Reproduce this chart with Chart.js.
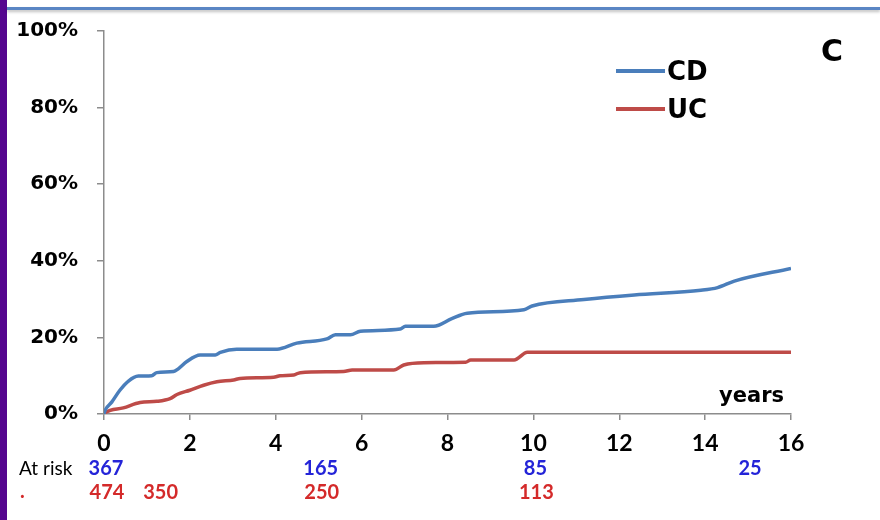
<!DOCTYPE html>
<html>
<head>
<meta charset="utf-8">
<script src="https://cdn.jsdelivr.net/npm/chart.js@4.4.1/dist/chart.umd.min.js"></script>
<style>
  html, body { margin: 0; padding: 0; background: #fff; }
  #wrap { position: relative; width: 880px; height: 520px; overflow: hidden; background: #fff; }
  #bar { position: absolute; left: 0; top: 0; width: 7px; height: 520px; background: #55068f; }
  #rule { position: absolute; left: 7px; right: 0; top: 7px; height: 3px; background: #5a86c4;
          box-shadow: 0 2px 3px rgba(0,0,0,.25); }
  #chart { position: absolute; left: 0; top: 0; }
</style>
</head>
<body>
<div id="wrap">
  <canvas id="chart" width="880" height="520"></canvas>
  <div id="bar"></div>
  <div id="rule"></div>
</div>
<script>
// cumulative incidence
const cdYears = [0, 0.02, 0.18, 0.37, 0.57, 0.8, 1.11, 1.23, 1.62, 1.73, 1.93, 2.24, 2.59, 2.71, 3.09, 4.03, 4.49, 5.19, 5.39, 5.74, 5.97, 6.9, 7.02, 7.68, 8.1, 8.46, 9.78, 9.97, 11.18, 12.35, 13.9, 14.29, 14.68, 16];
const cdPct   = [0, 0.8, 3.1, 6.2, 8.6, 9.9, 10, 10.8, 11.1, 11.8, 13.7, 15.4, 15.4, 16.1, 16.9, 16.9, 18.5, 19.6, 20.7, 20.7, 21.6, 22.2, 22.9, 22.9, 24.9, 26.3, 27.2, 28.2, 29.9, 31.1, 32.3, 33.0, 34.7, 38.0];
const ucYears = [0, 0.02, 0.45, 0.84, 1.23, 1.54, 1.7, 2.0, 2.32, 2.63, 3.02, 3.17, 3.95, 4.1, 4.42, 4.57, 5.58, 5.78, 6.75, 6.98, 7.45, 8.42, 8.54, 9.55, 9.86, 16];
const ucPct   = [0, 0.3, 1.6, 3.0, 3.3, 4.0, 5.1, 6.2, 7.5, 8.4, 8.9, 9.3, 9.6, 10.0, 10.2, 10.8, 11.1, 11.5, 11.5, 12.8, 13.4, 13.5, 14.1, 14.1, 16.1, 16.1];

// numbers at risk
const cdRiskYears = [0, 5, 10, 15];
const cdRisk      = [367, 165, 85, 25];
const ucRiskYears = [0, 1.25, 5, 10];
const ucRisk      = [474, 350, 250, 113];

const seriesNames = ['CD', 'UC'];
const colors = ['#4a7ebb', '#be4b48'];

const toPoints = (xs, ys) => xs.map((x, i) => ({ x, y: ys[i] }));

const extras = {
  id: 'extras',
  afterDraw(chart) {
    const ctx = chart.ctx;
    const xs = chart.scales.x;
    ctx.save();
    // legend
    ctx.lineWidth = 4;
    ctx.textBaseline = 'middle';
    ctx.font = 'bold 26px "DejaVu Sans"';
    seriesNames.forEach((name, i) => {
      const y = 71 + i * 38;
      ctx.strokeStyle = colors[i];
      ctx.beginPath(); ctx.moveTo(616, y); ctx.lineTo(665, y); ctx.stroke();
      ctx.fillStyle = '#000';
      ctx.textAlign = 'left';
      ctx.fillText(name, 667, y + 2);
    });
    // panel letter
    ctx.font = 'bold 30px "DejaVu Sans"';
    ctx.fillText('C', 821, 53);
    // axis title
    ctx.font = 'bold 21px "DejaVu Sans"';
    ctx.textAlign = 'right';
    ctx.fillText('years', 784, 397);
    // at-risk table
    ctx.font = '19px Lato';
    ctx.textAlign = 'left';
    ctx.fillStyle = '#000';
    ctx.fillText('At risk', 19, 469);
    ctx.fillStyle = '#d42a2a';
    ctx.font = 'bold 20px Lato';
    ctx.fillText('.', 20, 492);
    ctx.textAlign = 'center';
    ctx.fillStyle = '#2424d8';
    cdRisk.forEach((n, i) => ctx.fillText(String(n), xs.getPixelForValue(cdRiskYears[i]) + 2, 469));
    ctx.fillStyle = '#d42a2a';
    ucRisk.forEach((n, i) => ctx.fillText(String(n), xs.getPixelForValue(ucRiskYears[i]) + 3, 493));
    ctx.restore();
  }
};

new Chart(document.getElementById('chart'), {
  type: 'line',
  data: {
    datasets: [
      { label: seriesNames[0], data: toPoints(cdYears, cdPct), borderColor: colors[0], borderWidth: 3.5, pointRadius: 0, cubicInterpolationMode: 'monotone' },
      { label: seriesNames[1], data: toPoints(ucYears, ucPct), borderColor: colors[1], borderWidth: 3.5, pointRadius: 0, cubicInterpolationMode: 'monotone' }
    ]
  },
  options: {
    responsive: false,
    animation: false,
    layout: { padding: { left: 0, right: 89, top: 23, bottom: 66 } },
    plugins: { legend: { display: false }, tooltip: { enabled: false } },
    scales: {
      x: {
        type: 'linear', min: 0, max: 16,
        afterFit(s) { s.height = 40; },
        ticks: { stepSize: 2, color: '#000', font: { family: 'Lato', weight: 'bold', size: 23 }, padding: 10 },
        grid: { drawOnChartArea: false, drawTicks: true, tickLength: 6, color: '#8c8c8c', lineWidth: 1.5 },
        border: { color: '#8c8c8c', width: 1.5 }
      },
      y: {
        min: 0, max: 100,
        afterFit(s) { s.width = 104; },
        ticks: { stepSize: 20, color: '#000', callback: v => v + '%', font: { family: 'DejaVu Sans', weight: 'bold', size: 20 }, padding: 19 },
        grid: { drawOnChartArea: false, drawTicks: true, tickLength: 7, color: '#8c8c8c', lineWidth: 1.5 },
        border: { color: '#8c8c8c', width: 1.5 }
      }
    }
  },
  plugins: [extras]
});
</script>
</body>
</html>
